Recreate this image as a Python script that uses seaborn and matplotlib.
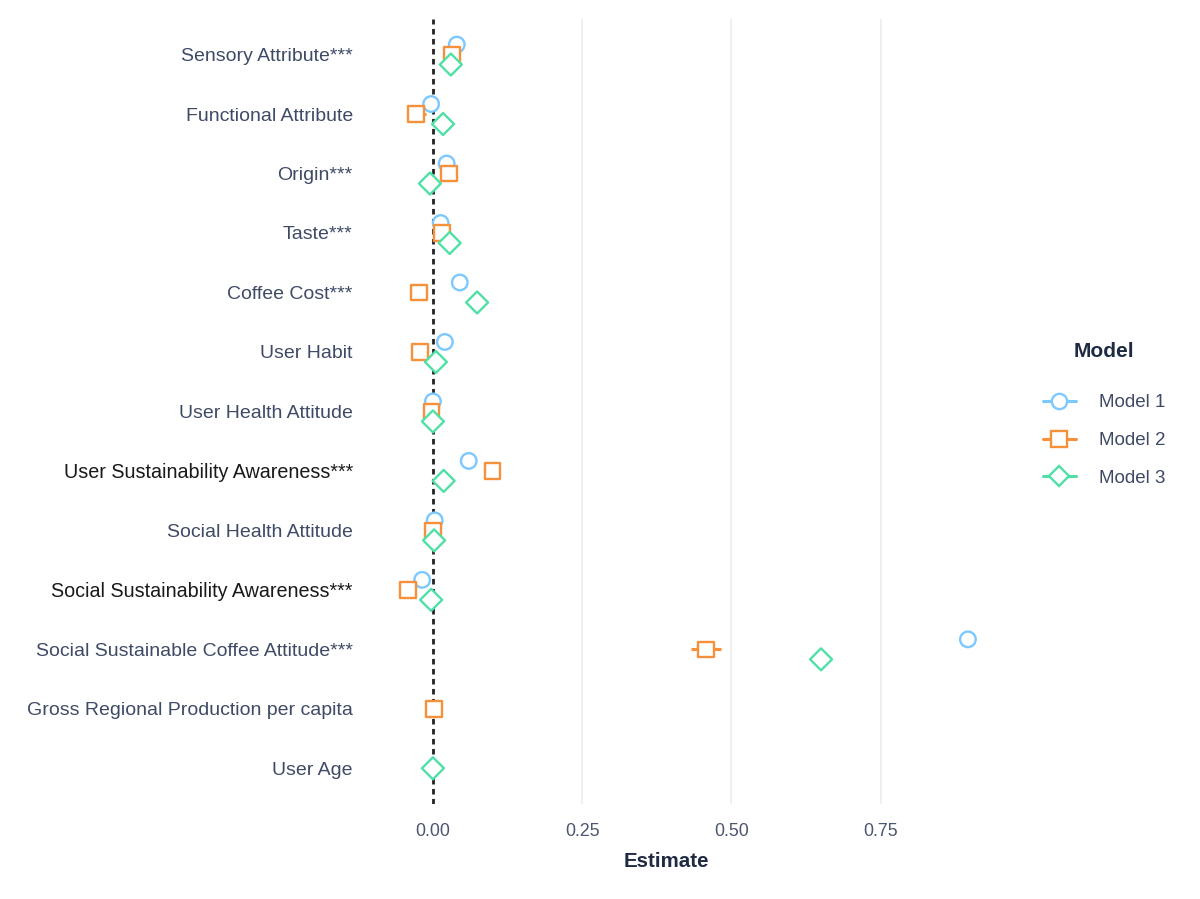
import numpy as np
import pandas as pd
import matplotlib
matplotlib.use("Agg")
import matplotlib.pyplot as plt
from matplotlib.lines import Line2D
import seaborn as sns

# coefficient estimates
terms = [
    "Sensory Attribute***",
    "Functional Attribute",
    "Origin***",
    "Taste***",
    "Coffee Cost***",
    "User Habit",
    "User Health Attitude",
    "User Sustainability Awareness***",
    "Social Health Attitude",
    "Social Sustainability Awareness***",
    "Social Sustainable Coffee Attitude***",
    "Gross Regional Production per capita",
    "User Age",
]
models = ["Model 1", "Model 2", "Model 3"]

model1_est = [0.040, -0.003, 0.023, 0.013, 0.045, 0.020, 0.000, 0.060, 0.003, -0.018, 0.896, np.nan, np.nan]
model2_est = [0.032, -0.028, 0.027, 0.015, -0.023, -0.022, -0.002, 0.100, 0.000, -0.042, 0.457, 0.002, np.nan]
model3_est = [0.030, 0.017, -0.005, 0.028, 0.074, 0.005, 0.000, 0.018, 0.002, -0.003, 0.650, np.nan, 0.000]

# half width of the confidence intervals
model1_ci = [0.005, 0.005, 0.005, 0.005, 0.005, 0.005, 0.004, 0.006, 0.004, 0.005, 0.008, np.nan, np.nan]
model2_ci = [0.008, 0.016, 0.008, 0.008, 0.008, 0.008, 0.006, 0.010, 0.006, 0.008, 0.025, 0.006, np.nan]
model3_ci = [0.005, 0.005, 0.005, 0.005, 0.006, 0.005, 0.004, 0.006, 0.004, 0.005, 0.010, np.nan, 0.004]

palette = {"Model 1": "#7CC8FF", "Model 2": "#F7903A", "Model 3": "#4FE0A6"}
markers = {"Model 1": "o", "Model 2": "s", "Model 3": "D"}
dark_labels = ["User Sustainability Awareness***", "Social Sustainability Awareness***"]

# long table
rows = []
for est_list, ci_list, m in zip([model1_est, model2_est, model3_est],
                                [model1_ci, model2_ci, model3_ci], models):
    for i, t in enumerate(terms):
        if not np.isnan(est_list[i]):
            rows.append({"term": t, "row": i, "model": m,
                         "estimate": est_list[i],
                         "lower": est_list[i] - ci_list[i],
                         "upper": est_list[i] + ci_list[i]})
df = pd.DataFrame(rows)

# dodge like position_dodge: spread only the models present in a row
step = 0.168
df["slot"] = df.groupby("row").cumcount()
df["n"] = df.groupby("row")["model"].transform("count")
df["ypos"] = df["row"] + (df["slot"] - (df["n"] - 1) / 2) * step

sns.set_theme(style="white")
plt.rcParams["font.family"] = ["Liberation Sans", "DejaVu Sans"]

fig = plt.figure(figsize=(12, 8.99), dpi=100)
ax = fig.add_axes([0.3125, 0.1057, 0.5175, 0.8733])

for x in [0.25, 0.5, 0.75]:
    ax.axvline(x, color="#EBEBEB", lw=1.1, zorder=0)
ax.axvline(0, color="#222222", lw=2.0, ls=(0, (2, 1.6)), zorder=1)

ax.hlines(df["ypos"], df["lower"], df["upper"],
          colors=df["model"].map(palette), lw=2.2, zorder=2)

sns.scatterplot(data=df, x="estimate", y="ypos", hue="model", style="model",
                palette=palette, markers=markers, s=125, linewidth=1.7,
                legend=False, zorder=3, ax=ax)
coll = ax.collections[-1]
coll.set_edgecolors(coll.get_facecolors())
coll.set_facecolors("white")

ax.set_xlim(-0.097, 0.943)
ax.set_ylim(len(terms) - 0.4, -0.6)
ax.set_xticks([0.0, 0.25, 0.5, 0.75])
ax.set_xticklabels(["0.00", "0.25", "0.50", "0.75"], fontsize=12.8, color="#4D5670")
ax.set_yticks(range(len(terms)))
ax.set_yticklabels(terms, fontsize=14, color="#3F4A66", va="center_baseline")
for lab in ax.get_yticklabels():
    if lab.get_text() in dark_labels:
        lab.set_color("#1A1A1A")
        lab.set_fontsize(14.2)
ax.tick_params(axis="x", length=0, pad=14)
ax.tick_params(axis="y", length=0, pad=16)
ax.set_xlabel("Estimate", fontsize=14.8, fontweight="bold", color="#1F2A44")
ax.xaxis.set_label_coords(0.47, -0.061)
ax.set_ylabel("")
sns.despine(ax=ax, left=True, bottom=True)

handles = [Line2D([0], [0], color=palette[m], marker=markers[m], markerfacecolor="white",
                  markeredgecolor=palette[m], markersize=11 if m != "Model 3" else 10,
                  markeredgewidth=1.7, lw=2.2) for m in models]
leg = fig.legend(handles, models, title="Model", loc="center left",
                 bbox_to_anchor=(0.855, 0.539), frameon=False, fontsize=13.5,
                 handlelength=1.75, handletextpad=1.25, labelspacing=1.1)
leg.get_title().set_fontweight("bold")
leg.get_title().set_fontsize(15)
leg.get_title().set_color("#1F2A44")
for txt in leg.get_texts():
    txt.set_color("#3F4A66")
leg._legend_box.sep = 24

fig.savefig("out.png", dpi=100)
